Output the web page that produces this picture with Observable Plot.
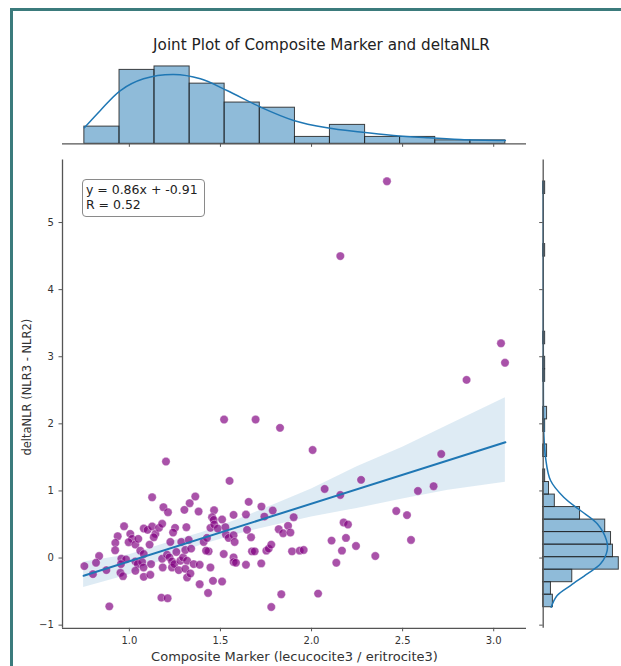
<!DOCTYPE html>
<html>
<head>
<meta charset="utf-8">
<script src="https://cdn.jsdelivr.net/npm/d3@7"></script>
<script src="https://cdn.jsdelivr.net/npm/@observablehq/plot@0.6"></script>
<style>
html, body { margin: 0; padding: 0; background: #fff; overflow: hidden; }
#wrap { position: relative; width: 621px; height: 666px; font-family: "DejaVu Sans", sans-serif; color: #333; }
#border { position: absolute; left: 10px; top: 8px; width: 640px; height: 700px; border-top: 3px solid #3b7b7c; border-left: 3px solid #3b7b7c; box-sizing: border-box; }
#title { position: absolute; left: 0; width: 643px; top: 38px; text-align: center; font-size: 15.2px; line-height: 1; color: #222; white-space: nowrap; }
#stats { position: absolute; left: 81.7px; top: 179px; width: 123px; height: 38px; box-sizing: border-box; border: 1.3px solid #8a8a8a; border-radius: 4px; background: rgba(255,255,255,0.85); padding: 3.4px 0 0 3.2px; font-size: 12.5px; line-height: 14.6px; color: #222; white-space: nowrap; }
</style>
</head>
<body>
<div id="wrap">
  <div id="border"></div>
  <div id="title"></div>
</div>
<script>
// ---------- texts ----------
const titleText = "Joint Plot of Composite Marker and deltaNLR";
const xLabel = "Composite Marker (lecucocite3 / eritrocite3)";
const yLabel = "deltaNLR (NLR3 - NLR2)";
const statLines = ["y = 0.86x + -0.91", "R = 0.52"];

// ---------- axes ----------
const xDomain = [0.633, 3.18];
const yDomain = [-1.047, 5.932];
const xTicks = [1.0, 1.5, 2.0, 2.5, 3.0];
const yTicks = [-1, 0, 1, 2, 3, 4, 5];

// ---------- scatter (Composite Marker, deltaNLR) ----------
const ptX = [2.414, 2.158, 3.040, 3.062, 2.851,
  1.52, 1.693, 1.827, 1.201, 1.55, 1.125, 1.362, 1.187, 1.212, 1.331, 1.302, 1.38, 1.465, 1.655, 1.725,
  1.741, 1.787, 1.902, 1.572, 1.64, 1.454, 1.463, 1.509, 0.971, 0.936, 0.923, 0.922, 1.005, 1.015, 0.996,
  1.033, 1.049, 1.079, 1.1, 1.125, 1.143, 1.134, 1.163, 1.18, 1.111, 1.06, 1.079, 0.956, 0.982, 0.954,
  0.951, 0.965, 0.834, 0.817, 0.753, 0.8, 0.874, 0.89, 1.033, 1.046, 1.07, 1.078, 1.033, 1.079, 1.115,
  1.119, 1.18, 1.183, 1.207, 1.22, 1.234, 1.234, 1.258, 1.247, 1.271, 1.28, 1.295, 1.225, 1.251, 1.24,
  1.285, 1.307, 1.326, 1.339, 1.313, 1.317, 1.307, 1.317, 1.335, 1.353, 1.386, 1.386, 1.432, 1.459, 1.509,
  1.445, 1.408, 1.426, 1.435, 1.445, 1.466, 1.485, 1.421, 1.518, 1.53, 1.545, 1.572, 1.578, 1.527, 1.572,
  1.572, 1.585, 1.64, 1.646, 1.668, 1.673, 1.688, 1.724, 1.752, 1.765, 1.779, 1.82, 1.844, 1.871, 1.884,
  1.893, 1.935, 1.834, 1.779, 1.176, 1.21,
  2.006, 2.072, 2.158, 2.272, 2.712, 2.67, 2.584, 2.465, 2.524, 2.546, 1.957, 2.176, 2.2, 2.189, 2.11,
  2.244, 2.167, 2.136, 2.35, 2.036];
const ptY = [5.615, 4.50, 3.20, 2.91, 2.655,
  2.064, 2.064, 1.94, 1.438, 1.15, 0.906, 0.917, 0.757, 0.683, 0.817, 0.718, 0.693, 0.713, 0.837, 0.767,
  0.618, 0.708, 0.608, 0.643, 0.648, 0.608, 0.569, 0.574, 0.474, 0.325, 0.226, 0.116, 0.36, 0.286, 0.236,
  0.2, 0.286, 0.44, 0.42, 0.47, 0.36, 0.31, 0.45, 0.51, 0.2, 0.11, 0.06, -0.01, -0.02, -0.09,
  -0.22, -0.27, 0.03, -0.07, -0.12, -0.24, -0.18, -0.72, -0.05, -0.09, -0.06, -0.14, -0.19, -0.28, -0.25,
  -0.09, -0.01, -0.14, 0.05, 0.01, -0.05, -0.14, 0.09, -0.09, -0.18, -0.04, 0.01, 0.24, 0.45, 0.38,
  0.24, 0.12, 0.27, 0.14, 0.46, -0.04, -0.16, -0.29, -0.23, -0.09, -0.1, -0.39, -0.52, -0.34, -0.35,
  -0.14, 0.24, 0.3, 0.1, 0.45, 0.5, 0.44, 0.11, 0.06, 0.35, 0.3, 0.34, 0.24, 0.46, 0.01,
  -0.06, -0.07, -0.1, 0.42, 0.31, 0.1, 0.1, -0.08, 0.11, 0.14, 0.2, 0.43, 0.37, 0.48, 0.38,
  0.1, 0.11, -0.54, -0.73, -0.59, -0.6,
  1.61, 1.03, 0.94, 1.165, 1.55, 1.07, 1.0, 0.70, 0.64, 0.27, 0.12, 0.53, 0.5, 0.30, 0.26,
  0.18, 0.11, -0.07, 0.03, -0.53];

// ---------- regression line and confidence band ----------
const regX = [0.749, 3.064];
const regY = [-0.265, 1.725];
const bandX  = [0.749, 1.0, 1.25, 1.4, 1.6, 1.8, 2.0, 2.25, 2.5, 2.75, 3.064];
const bandLo = [-0.44, -0.25, 0.05, 0.20, 0.36, 0.49, 0.61, 0.74, 0.88, 1.01, 1.13];
const bandHi = [-0.06, 0.05, 0.26, 0.38, 0.58, 0.80, 1.03, 1.36, 1.65, 1.98, 2.39];

// ---------- top marginal histogram (x) ----------
const edgesX = [0.753, 0.946, 1.138, 1.331, 1.523, 1.716, 1.909, 2.101, 2.294, 2.486, 2.679, 2.872, 3.064];
const countsX = [10, 43, 45, 35, 24, 21, 4, 11, 4, 4, 2, 2];
const kdeXpos = [0.753, 0.841, 0.951, 1.078, 1.243, 1.39, 1.536, 1.719, 1.902, 2.085, 2.268, 2.45, 2.634, 2.817, 3.064];
const kdeXval = [9.3, 19.4, 31.0, 37.8, 40.3, 37.8, 31.0, 21.4, 13.6, 9.3, 6.8, 4.8, 3.5, 2.5, 1.9];

// ---------- right marginal histogram (y) ----------
const edgesY = [-0.733, -0.546, -0.360, -0.173, 0.013, 0.200, 0.387, 0.573, 0.760, 0.946, 1.133, 1.320,
  1.506, 1.693, 1.879, 2.066, 2.253, 2.439, 2.626, 2.813, 2.999, 3.186, 3.373, 3.559, 3.746, 3.933,
  4.119, 4.306, 4.492, 4.679, 4.866, 5.052, 5.239, 5.425, 5.612];
const countsY = [5, 4, 15, 39, 36, 35, 32, 19, 6, 3, 1, 0, 2, 0, 1, 2, 0, 0, 1, 1, 0, 1, 0, 0, 0, 0, 0, 0, 1, 0, 0, 0, 0, 1];
const kdeYpos = [-0.733, -0.559, -0.41, -0.235, -0.086, 0.112, 0.26, 0.51, 0.708, 0.906, 1.155, 1.50, 1.85, 2.35, 3.0, 4.0, 5.0, 5.612];
const kdeYval = [4.1, 7.2, 14.1, 22.7, 29.6, 33.0, 32.7, 27.9, 19.2, 10.6, 3.8, 1.2, 0.34, 0.1, 0.05, 0.03, 0.02, 0.01];

// ---------- colours ----------
const blue = "#1f77b4";
const purple = "#800080";
const spineColor = "#555";
const ink = "#333";

(function () {
  const points = ptX.map((x, i) => ({x, y: ptY[i]}));
  const reg = regX.map((x, i) => ({x, y: regY[i]}));
  const band = bandX.map((x, i) => ({x, lo: bandLo[i], hi: bandHi[i]}));
  const topBins = countsX.map((c, i) => ({x1: edgesX[i], x2: edgesX[i + 1], c}));
  const topKde = kdeXpos.map((x, i) => ({x, c: kdeXval[i]}));
  const rightBins = countsY.map((c, i) => ({y1: edgesY[i], y2: edgesY[i + 1], c})).filter(d => d.c > 0);
  const rightKde = kdeYpos.map((y, i) => ({y, c: kdeYval[i]}));

  const baseStyle = {background: "transparent", fontFamily: "DejaVu Sans", fontSize: "10px", color: ink, position: "absolute", overflow: "visible"};
  const wrap = document.getElementById("wrap");
  document.getElementById("title").textContent = titleText;
  const intFmt = d3.format("d");

  // main joint panel
  const mainPlot = Plot.plot({
    width: 535, height: 516,
    marginLeft: 62, marginRight: 9, marginTop: 9.5, marginBottom: 38.2,
    x: {domain: xDomain},
    y: {domain: yDomain},
    style: {...baseStyle, left: "0px", top: "150px"},
    marks: [
      Plot.areaY(band, {x: "x", y1: "lo", y2: "hi", fill: blue, fillOpacity: 0.15}),
      Plot.dot(points, {x: "x", y: "y", r: 4.2, fill: purple, fillOpacity: 0.68, stroke: "#fff", strokeWidth: 0.5, strokeOpacity: 0.7}),
      Plot.line(reg, {x: "x", y: "y", stroke: blue, strokeWidth: 2}),
      Plot.ruleX([xDomain[0]], {stroke: spineColor, strokeWidth: 1.3}),
      Plot.ruleY([yDomain[0]], {stroke: spineColor, strokeWidth: 1.3}),
      Plot.axisX(xTicks, {tickSize: 3.5, tickPadding: 5.5, tickFormat: d3.format(".1f"), label: null, stroke: spineColor, fill: ink, fontSize: 10}),
      Plot.axisY(yTicks, {tickSize: 3.5, tickPadding: 5.2, tickFormat: d => intFmt(d), label: null, stroke: spineColor, fill: ink, fontSize: 10}),
      Plot.text([xLabel], {text: d => d, frameAnchor: "bottom", textAnchor: "middle", dy: 28.9, lineAnchor: "middle", fontSize: 13, fill: ink}),
      Plot.text([yLabel], {text: d => d, frameAnchor: "left", textAnchor: "middle", rotate: -90, dx: -35.3, dy: -7, lineAnchor: "middle", fontSize: 11.5, fill: ink})
    ]
  });
  wrap.appendChild(mainPlot);

  // top marginal
  const topPlot = Plot.plot({
    width: 535, height: 150,
    marginLeft: 62, marginRight: 9, marginTop: 62, marginBottom: 6.7,
    x: {domain: xDomain},
    y: {domain: [0, 47.3], axis: null},
    style: {...baseStyle, left: "0px", top: "0px"},
    marks: [
      Plot.rect(topBins, {x1: "x1", x2: "x2", y1: 0, y2: "c", fill: blue, fillOpacity: 0.5, stroke: "#222", strokeOpacity: 0.85, strokeWidth: 1}),
      Plot.line(topKde, {x: "x", y: "c", stroke: blue, strokeWidth: 1.5, curve: "catmull-rom"}),
      Plot.ruleY([0], {stroke: spineColor, strokeWidth: 1.3}),
      Plot.axisX(xTicks, {tickSize: 3.5, tickFormat: () => "", label: null, stroke: spineColor})
    ]
  });
  wrap.appendChild(topPlot);

  // right marginal
  const rightPlot = Plot.plot({
    width: 86, height: 516,
    marginLeft: 7.7, marginRight: 0, marginTop: 9.5, marginBottom: 38.2,
    x: {domain: [0, 40.4], axis: null},
    y: {domain: yDomain},
    style: {...baseStyle, left: "535px", top: "150px"},
    marks: [
      Plot.rect(rightBins, {y1: "y1", y2: "y2", x1: 0, x2: "c", fill: blue, fillOpacity: 0.5, stroke: "#222", strokeOpacity: 0.85, strokeWidth: 1}),
      Plot.line(rightKde, {x: "c", y: "y", stroke: blue, strokeWidth: 1.5, curve: "catmull-rom"}),
      Plot.ruleX([0], {stroke: spineColor, strokeWidth: 1.3}),
      Plot.axisY(yTicks, {tickSize: 3.5, tickFormat: () => "", label: null, stroke: spineColor})
    ]
  });
  wrap.appendChild(rightPlot);

  // stats box
  const box = document.createElement("div");
  box.id = "stats";
  box.innerHTML = statLines.map(s => `<div>${s}</div>`).join("");
  wrap.appendChild(box);
})();
</script>
</body>
</html>
